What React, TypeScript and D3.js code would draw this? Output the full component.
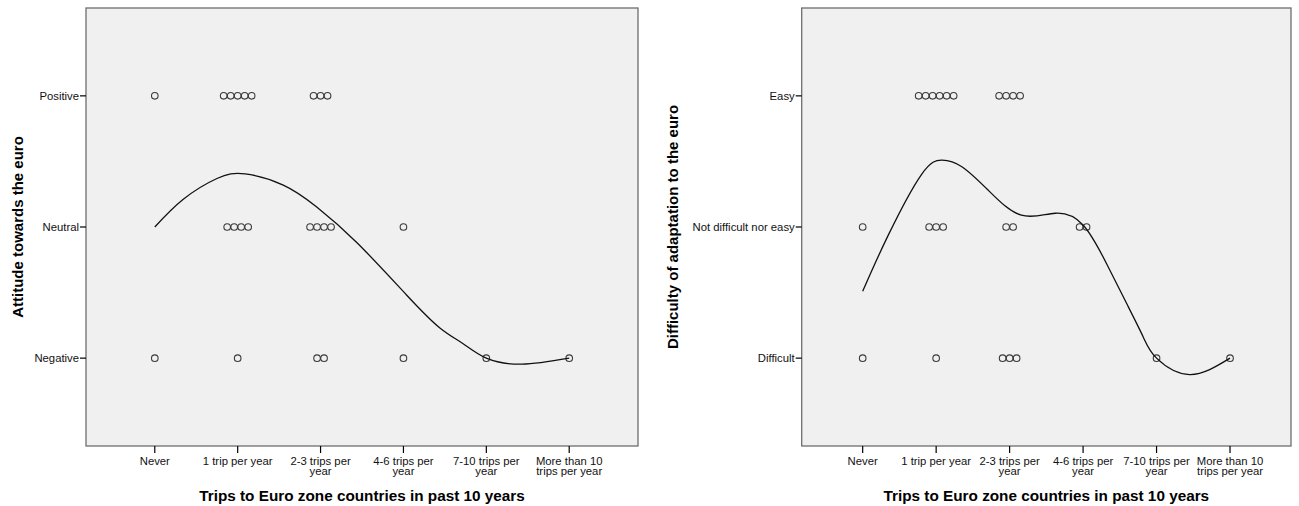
import React from "react";
import * as d3 from "d3";

const categories: string[][] = [
  ["Never"],
  ["1 trip per year"],
  ["2-3 trips per", "year"],
  ["4-6 trips per", "year"],
  ["7-10 trips per", "year"],
  ["More than 10", "trips per year"],
];

const xTitle = "Trips to Euro zone countries in past 10 years";

// Left panel
const attitudeLevels = ["Negative", "Neutral", "Positive"];
const attitudeNegative = [1, 1, 2, 1, 1, 1];
const attitudeNeutral = [0, 4, 4, 1, 0, 0];
const attitudePositive = [1, 5, 3, 0, 0, 0];
const attitudeFitX = [0, 0.34, 0.75, 1.09, 1.55, 1.95, 2.44, 3.04, 3.44, 3.72, 4.0, 4.43, 5.0];
const attitudeFitY = [2.0, 2.21, 2.37, 2.405, 2.32, 2.155, 1.88, 1.48, 1.23, 1.11, 1.0, 0.954, 1.0];

// Right panel
const difficultyLevels = ["Difficult", "Not difficult nor easy", "Easy"];
const difficultyDifficult = [1, 1, 3, 0, 1, 1];
const difficultyNeutral = [1, 3, 2, 2, 0, 0];
const difficultyEasy = [0, 6, 4, 0, 0, 0];
const difficultyFitX = [0, 0.35, 0.8, 1.08, 1.35, 1.71, 2.16, 2.62, 3.0, 3.32, 3.59, 3.82, 4.0, 4.45, 5.0];
const difficultyFitY = [1.51, 1.94, 2.4, 2.51, 2.46, 2.28, 2.09, 2.105, 2.015, 1.72, 1.42, 1.16, 1.0, 0.875, 1.0];

const FONT = "Arial, 'Liberation Sans', sans-serif";

type PanelProps = {
  left: number;
  right: number;
  levels: string[];
  counts: number[][];
  fitX: number[];
  fitY: number[];
  yTitle: string;
  yTitleX: number;
};

function Panel({ left, right, levels, counts, fitX, fitY, yTitle, yTitleX }: PanelProps) {
  const top = 8;
  const bottom = 446;
  const x = d3.scaleLinear().domain([-0.83, 5.83]).range([left, right]);
  const y = d3.scaleLinear().domain([0.33, 3.67]).range([bottom, top]);
  const pitch = 7;
  const line = d3
    .line<number>()
    .x((_, i) => x(fitX[i]))
    .y((d) => y(d))
    .curve(d3.curveNatural);
  const pts: { cx: number; cy: number; k: string }[] = [];
  counts.forEach((row, li) => {
    row.forEach((n, ci) => {
      for (let i = 0; i < n; i++) {
        pts.push({ cx: x(ci) + (i - (n - 1) / 2) * pitch, cy: y(li + 1), k: `${li}-${ci}-${i}` });
      }
    });
  });
  const cx = (left + right) / 2;
  const cy = (top + bottom) / 2;
  return (
    <g>
      <rect x={left} y={top} width={right - left} height={bottom - top} fill="#f0f0f0" stroke="#6e6e6e" strokeWidth={1.3} />
      {levels.map((lab, i) => (
        <g key={lab}>
          <line x1={left - 6} x2={left} y1={y(i + 1)} y2={y(i + 1)} stroke="#000" strokeWidth={1.2} />
          <text x={left - 7} y={y(i + 1) + 4} textAnchor="end" fontSize={11.3} fontFamily={FONT} fill="#111">
            {lab}
          </text>
        </g>
      ))}
      {categories.map((lines, i) => (
        <g key={i}>
          <line x1={x(i)} x2={x(i)} y1={bottom} y2={bottom + 7} stroke="#000" strokeWidth={1.2} />
          {lines.map((t, j) => (
            <text key={j} x={x(i)} y={465 + j * 10} textAnchor="middle" fontSize={11.3} fontFamily={FONT} fill="#111">
              {t}
            </text>
          ))}
        </g>
      ))}
      {pts.map((p) => (
        <circle key={p.k} cx={p.cx} cy={p.cy} r={3.3} fill="none" stroke="#3a3a3a" strokeWidth={1.1} />
      ))}
      <path d={line(fitY) || ""} fill="none" stroke="#111" strokeWidth={1.3} />
      <text x={cx} y={500.5} textAnchor="middle" fontSize={15.3} fontWeight="bold" fontFamily={FONT} fill="#000">
        {xTitle}
      </text>
      <text
        transform={`translate(${yTitleX},${cy}) rotate(-90)`}
        textAnchor="middle"
        fontSize={15}
        fontWeight="bold"
        fontFamily={FONT}
        fill="#000"
      >
        {yTitle}
      </text>
    </g>
  );
}

export default function App() {
  return (
    <svg width={1299} height={506} style={{ position: "absolute", left: 0, top: 0, background: "#fff" }}>
      <rect x={0} y={0} width={1299} height={506} fill="#fff" />
      <Panel
        left={86}
        right={638}
        levels={attitudeLevels}
        counts={[attitudeNegative, attitudeNeutral, attitudePositive]}
        fitX={attitudeFitX}
        fitY={attitudeFitY}
        yTitle="Attitude towards the euro"
        yTitleX={23}
      />
      <Panel
        left={801.7}
        right={1291}
        levels={difficultyLevels}
        counts={[difficultyDifficult, difficultyNeutral, difficultyEasy]}
        fitX={difficultyFitX}
        fitY={difficultyFitY}
        yTitle="Difficulty of adaptation to the euro"
        yTitleX={677.5}
      />
    </svg>
  );
}
